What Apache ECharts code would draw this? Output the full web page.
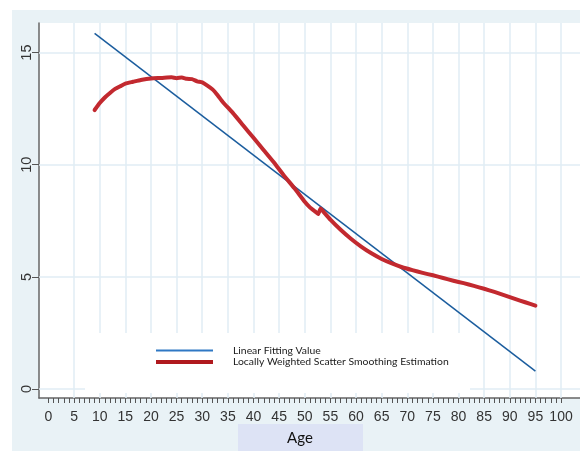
<!DOCTYPE html>
<html>
<head>
<meta charset="utf-8">
<script src="https://cdn.jsdelivr.net/npm/echarts@6/dist/echarts.min.js"></script>
<style>
html,body{margin:0;padding:0;background:#fff;}
#chart{width:580px;height:451px;}
</style>
</head>
<body>
<div id="chart"></div>
<script>
// ---- data ----
var linearAge = [9, 95];
var linearValue = [15.86, 0.80];

var lowessAge = [9, 10, 11, 12, 13, 14, 15, 16.5, 18, 20, 22, 24, 25, 26, 27, 28, 29, 30, 31, 32, 33, 34, 36, 38, 40, 42, 44, 46, 48, 50, 51, 52, 52.6, 53.1, 53.6, 55, 57, 59, 61, 63, 65, 67, 69, 71, 73, 75, 77, 79, 81, 83, 85, 87, 89, 91, 93, 95];
var lowessValue = [12.44, 12.75, 13.0, 13.2, 13.38, 13.5, 13.62, 13.7, 13.78, 13.85, 13.87, 13.9, 13.86, 13.89, 13.83, 13.82, 13.72, 13.67, 13.53, 13.36, 13.1, 12.8, 12.3, 11.75, 11.2, 10.65, 10.1, 9.5, 8.95, 8.35, 8.1, 7.92, 7.8, 8.05, 7.92, 7.55, 7.1, 6.7, 6.35, 6.05, 5.8, 5.6, 5.43, 5.3, 5.18, 5.07, 4.95, 4.83, 4.72, 4.6, 4.47, 4.33, 4.18, 4.02, 3.87, 3.72];

var xTickValues = [];
for (var t = 0; t <= 100; t++) xTickValues.push(t);
var xLabelValues = [0, 5, 10, 15, 20, 25, 30, 35, 40, 45, 50, 55, 60, 65, 70, 75, 80, 85, 90, 95, 100];
var xGridValues = [5, 10, 15, 20, 25, 30, 35, 40, 45, 50, 55, 60, 65, 70, 75, 80, 85, 90, 95, 100];
var yLabelValues = [0, 5, 10, 15];

var seriesNames = ['Linear Fitting Value', 'Locally Weighted Scatter Smoothing Estimation'];
var xTitle = 'Age';

// ---- build ----
function pairs(xs, ys) { return xs.map(function (x, i) { return [x, ys[i]]; }); }

var gridMarks = xGridValues.map(function (v) { return { xAxis: v }; })
  .concat(yLabelValues.map(function (v) { return { yAxis: v }; }));

var chart = echarts.init(document.getElementById('chart'), null, { renderer: 'canvas' });
chart.setOption({
  animation: false,
  backgroundColor: '#ffffff',
  textStyle: { fontFamily: 'Liberation Sans, Arial, sans-serif' },
  graphic: [
    { type: 'rect', z: -10, shape: { x: 12, y: 10, width: 568, height: 441 }, style: { fill: '#e9f2f6' }, silent: true },
    { type: 'rect', z: -9, shape: { x: 39, y: 23, width: 541, height: 375 }, style: { fill: '#ffffff' }, silent: true },
    { type: 'rect', z: 10, shape: { x: 85, y: 333, width: 385, height: 60 }, style: { fill: '#ffffff' }, silent: true },
    { type: 'rect', z: 1, shape: { x: 238, y: 424, width: 125, height: 27 }, style: { fill: '#dde3f5' }, silent: true },
    { type: 'text', z: 2, x: 300, y: 438, style: { text: xTitle, fill: '#111', font: '15px Lato, "Open Sans", sans-serif', align: 'center', verticalAlign: 'middle' }, silent: true }
  ],
  legend: {
    orient: 'vertical',
    left: 156,
    top: 345,
    z: 20,
    itemWidth: 57,
    itemHeight: 10,
    itemGap: 0.5,
    padding: 0,
    symbolKeepAspect: true,
    selectedMode: false,
    textStyle: { fontFamily: 'Lato, "Open Sans", sans-serif', fontSize: 10.4, color: '#1a1a1a', lineHeight: 11, padding: [0, 0, 0, 15] },
    data: [
      { name: seriesNames[0], icon: 'path://M0,0H57V2H0Z', itemStyle: { color: '#2f78c4' } },
      { name: seriesNames[1], icon: 'path://M0,0H57V4H0Z', itemStyle: { color: '#b0191e' } }
    ]
  },
  grid: { left: 39, top: 23, right: 0, bottom: 53, containLabel: false },
  xAxis: {
    type: 'value',
    min: -1.85,
    max: 103.7,
    axisLine: { show: true, onZero: false, lineStyle: { color: '#666', width: 1.5 } },
    axisTick: { show: true, length: 5, customValues: xTickValues, lineStyle: { color: '#555', width: 1 } },
    axisLabel: { customValues: xLabelValues, fontSize: 14, color: '#333', margin: 12 },
    splitLine: { show: false }
  },
  yAxis: {
    type: 'value',
    min: -0.4,
    max: 16.32,
    axisLine: { show: true, onZero: false, lineStyle: { color: '#666', width: 1.5 } },
    axisTick: { show: true, length: 7, customValues: yLabelValues, lineStyle: { color: '#555', width: 1 } },
    axisLabel: { customValues: yLabelValues, fontSize: 14.5, color: '#333', rotate: 90, margin: 5 },
    splitLine: { show: false }
  },
  series: [
    {
      name: seriesNames[0],
      type: 'line',
      data: pairs(linearAge, linearValue),
      showSymbol: false,
      lineStyle: { color: '#1b5d9e', width: 1.5 },
      itemStyle: { color: '#2f78c4' },
      z: 3,
      markLine: {
        silent: true,
        symbol: 'none',
        label: { show: false },
        animation: false,
        lineStyle: { color: '#e1edf5', width: 1.5, type: 'solid' },
        emphasis: { disabled: true },
        data: gridMarks,
        z: 1
      }
    },
    {
      name: seriesNames[1],
      type: 'line',
      data: pairs(lowessAge, lowessValue),
      showSymbol: false,
      smooth: 0.15,
      lineStyle: { color: '#c2292f', width: 4, join: 'round', cap: 'round' },
      itemStyle: { color: '#b0191e' },
      z: 4
    }
  ]
});
</script>
</body>
</html>
